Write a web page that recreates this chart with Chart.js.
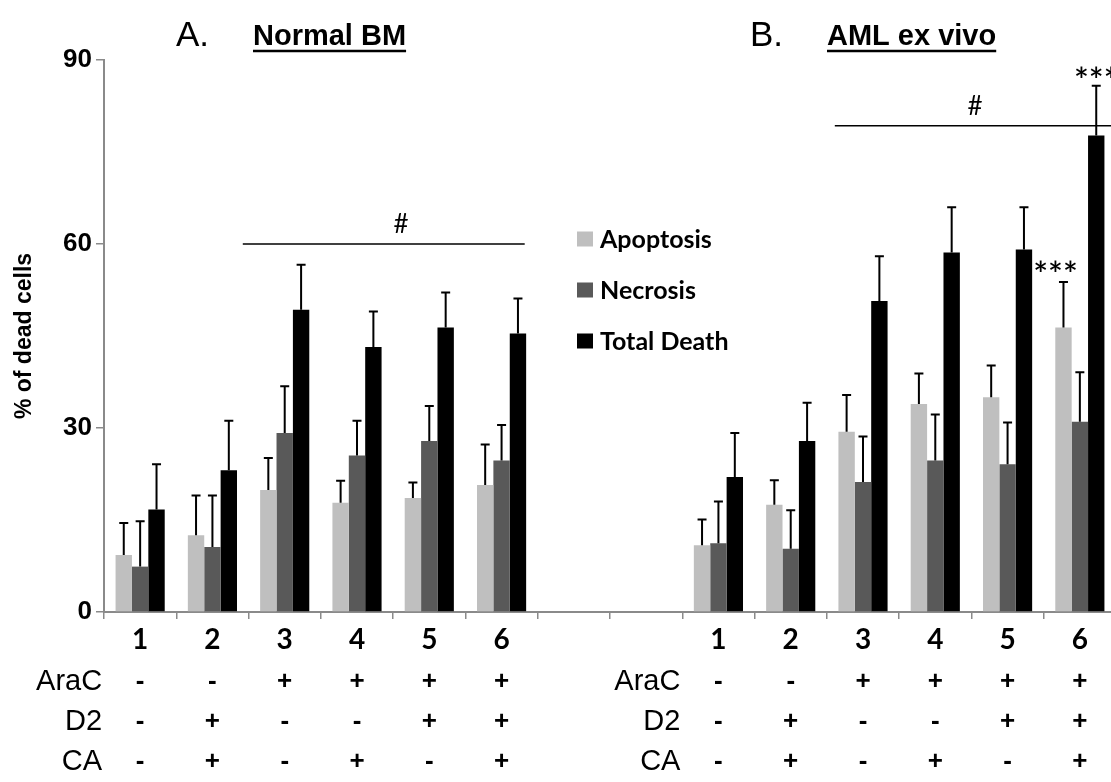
<!DOCTYPE html>
<html><head><meta charset="utf-8">
<script src="https://cdn.jsdelivr.net/npm/chart.js@4.4.1/dist/chart.umd.min.js"></script>
<style>
html,body{margin:0;padding:0;overflow:hidden;background:#fff;width:1111px;height:782px}
#wrap{position:absolute;left:0;top:0;width:1120px;height:782px}
</style></head><body><div id="wrap"><canvas id="c" width="1120" height="782"></canvas></div>
<script>
// ---- data ----
const categories = ['1','2','3','4','5','6','','','1','2','3','4','5','6'];
const seriesNames = ['Apoptosis','Necrosis','Total Death'];
const apoptosis   = [9.3,12.5,19.9,17.8,18.6,20.7,null,null,10.9,17.5,29.4,33.9,35.0,46.4];
const apoptosisSD = [5.2,6.5,5.2,3.6,2.5,6.6,null,null,4.2,4.0,6.0,5.0,5.2,7.4];
const necrosis    = [7.4,10.6,29.2,25.5,27.9,24.7,null,null,11.2,10.3,21.2,24.7,24.1,31.0];
const necrosisSD  = [7.4,8.4,7.6,5.7,5.7,5.8,null,null,6.8,6.3,7.4,7.5,6.8,8.1];
const totalDeath  = [16.7,23.1,49.3,43.2,46.4,45.4,null,null,22.0,27.9,50.7,58.6,59.1,77.7];
const totalSD     = [7.4,8.1,7.3,5.8,5.7,5.7,null,null,7.2,6.2,7.3,7.4,6.9,8.1];
const yTicks = [0,30,60,90];
const rowLabels = ['AraC','D2','CA'];
const araC = ['-','-','+','+','+','+','','','-','-','+','+','+','+'];
const d2   = ['-','+','-','-','+','+','','','-','+','-','-','+','+'];
const ca   = ['-','+','-','+','-','+','','','-','+','-','+','-','+'];
const panelLetters = ['A.','B.'];
const panelNames = ['Normal BM','AML ex vivo'];
const panelStart = [0,8];
// significance: line from/to category index, at value
const sigLines = [{from:1.42,to:5.32,value:60,label:'#',at:3.61},{from:9.61,to:14.2,value:79.3,label:'#',at:11.55}];
const starMarks = [{index:13,series:2,label:'***'},{index:13,series:0,label:'***'}];

const colors = ['#bfbfbf','#595959','#000000'];
const values = [apoptosis,necrosis,totalDeath];
const sds = [apoptosisSD,necrosisSD,totalSD];
const rows = [araC,d2,ca];

const overlay = {
  id:'overlay',
  afterDatasetsDraw(chart){
    const ctx = chart.ctx, y = chart.scales.y;
    ctx.save();
    ctx.strokeStyle = '#000'; ctx.lineWidth = 2;
    chart.data.datasets.forEach((ds,i)=>{
      const meta = chart.getDatasetMeta(i);
      meta.data.forEach((el,j)=>{
        const v = ds.data[j]; if (v==null) return;
        const top = y.getPixelForValue(v + sds[i][j]);
        ctx.beginPath();
        ctx.moveTo(el.x, el.y); ctx.lineTo(el.x, top);
        ctx.moveTo(el.x-4.5, top); ctx.lineTo(el.x+4.5, top);
        ctx.stroke();
      });
    });
    ctx.restore();
  },
  afterDraw(chart){
    const ctx = chart.ctx, x = chart.scales.x, y = chart.scales.y, ca_ = chart.chartArea;
    ctx.save();
    ctx.fillStyle = '#000'; ctx.strokeStyle = '#000';
    // significance lines
    ctx.lineWidth = 1.5;
    sigLines.forEach(s=>{
      const py = y.getPixelForValue(s.value);
      ctx.beginPath(); ctx.moveTo(x.getPixelForValue(s.from), py); ctx.lineTo(x.getPixelForValue(s.to), py); ctx.stroke();
      ctx.font = '26px Lato'; ctx.textAlign='center'; ctx.textBaseline='alphabetic';
      ctx.fillText(s.label, x.getPixelForValue(s.at), py - 11);
    });
    // stars
    starMarks.forEach(s=>{
      const el = chart.getDatasetMeta(s.series).data[s.index];
      const v = values[s.series][s.index] + sds[s.series][s.index];
      const py = y.getPixelForValue(v);
      ctx.font = '600 35px Lato'; ctx.textAlign='center'; ctx.textBaseline='alphabetic';
      ctx.fillText(s.label, el.x - (s.series===0?8:0), py + (s.series===0?5:7));
    });
    // legend
    ctx.textAlign='left'; ctx.textBaseline='middle';
    ctx.font = 'bold 25px Lato';
    chart.data.datasets.forEach((ds,i)=>{
      const cy = 239 + i*51;
      ctx.fillStyle = ds.backgroundColor; ctx.fillRect(577, cy-7.5, 16, 15);
      ctx.fillStyle = '#000'; ctx.fillText(ds.label, 600, cy+1);
    });
    // treatment rows
    rows.forEach((r,ri)=>{
      const cy = ca_.bottom + 70 + ri*40;
      ctx.font = '29px "Liberation Sans"'; ctx.textAlign='right'; ctx.textBaseline='middle';
      panelStart.forEach(p=>{ ctx.fillText(rowLabels[ri], x.getPixelForValue(p) - 38, cy); });
      ctx.font = 'bold 26px "Liberation Sans"'; ctx.textAlign='center';
      r.forEach((sgn,j)=>{ if (sgn) ctx.fillText(sgn, x.getPixelForValue(j), cy); });
    });
    // panel titles
    ctx.textBaseline='alphabetic'; ctx.textAlign='left';
    const letterX=[176,750], nameX=[253,827];
    panelLetters.forEach((L,i)=>{
      ctx.font = '35px "Liberation Sans"'; ctx.fillText(L, letterX[i], 46);
      ctx.font = 'bold 29px "Liberation Sans"'; ctx.fillText(panelNames[i], nameX[i], 45);
      const w = ctx.measureText(panelNames[i]).width;
      ctx.lineWidth = 2.5; ctx.beginPath(); ctx.moveTo(nameX[i], 51); ctx.lineTo(nameX[i]+w, 51); ctx.stroke();
    });
    ctx.restore();
  }
};

new Chart(document.getElementById('c'), {
  type:'bar',
  data:{labels:categories, datasets: seriesNames.map((n,i)=>({label:n, data:values[i], backgroundColor:colors[i], borderWidth:0}))},
  options:{
    responsive:false, animation:false,
    layout:{padding:{left:9,top:60,right:4,bottom:0}},
    plugins:{legend:{display:false}, tooltip:{enabled:false}},
    datasets:{bar:{categoryPercentage:0.68, barPercentage:1.0}},
    scales:{
      x:{
        grid:{offset:true, drawOnChartArea:false, tickLength:7, color:'#8a8a8a', lineWidth:1.5},
        border:{color:'#8a8a8a', width:2},
        ticks:{font:{family:'Lato', weight:'bold', size:28}, color:'#000', padding:4, maxRotation:0, autoSkip:false},
        afterFit:s=>{s.height=170;}
      },
      y:{
        min:0, max:90,
        afterBuildTicks:s=>{s.ticks = yTicks.map(v=>({value:v}));},
        grid:{drawOnChartArea:false, tickLength:8, color:'#8a8a8a', lineWidth:1.5},
        border:{color:'#8a8a8a', width:2},
        ticks:{font:{family:'Liberation Sans', weight:'bold', size:26}, color:'#000', padding:4},
        title:{display:true, text:'% of dead cells', font:{family:'Liberation Sans', weight:'bold', size:23}, color:'#000', padding:{top:2,bottom:2}},
        afterFit:s=>{s.width=95;}
      }
    }
  },
  plugins:[overlay]
});
</script></body></html>
